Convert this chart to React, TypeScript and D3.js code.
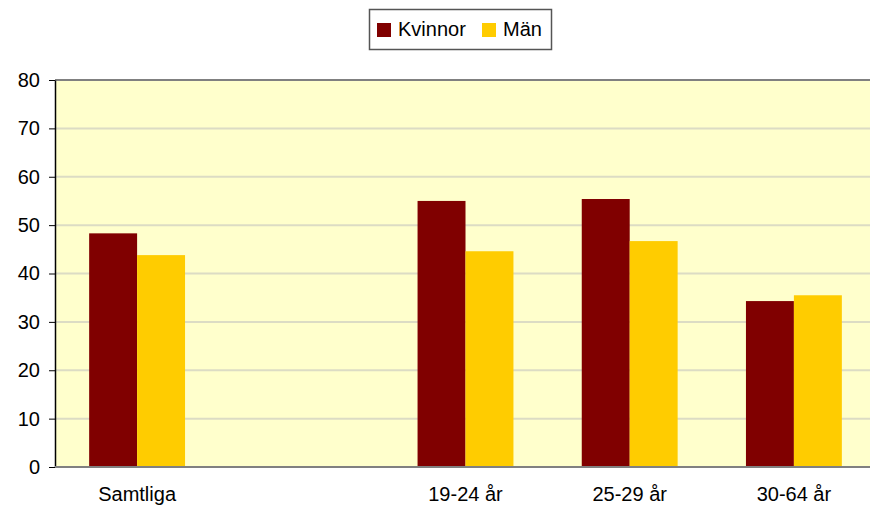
import React, { useEffect, useRef } from "react";
import * as d3 from "d3";

const categories = ["Samtliga", "", "19-24 år", "25-29 år", "30-64 år"];
const seriesNames = ["Kvinnor", "Män"];
const kvinnor = [48.3, null, 55.0, 55.4, 34.3];
const man = [43.8, null, 44.6, 46.7, 35.5];
const yTicks = [0, 10, 20, 30, 40, 50, 60, 70, 80];
const colors = ["#800000", "#ffcc00"];

const App: React.FC = () => {
  const svgRef = useRef<SVGSVGElement>(null);
  const width = 870;
  const height = 512;
  const margin = { top: 80, right: -6, bottom: 45, left: 55 };

  useEffect(() => {
    if (!svgRef.current) return;
    const svg = d3.select(svgRef.current);
    svg.selectAll("*").remove();

    const font = "'Liberation Sans', Arial, sans-serif";
    const x0 = d3.scaleBand<string>()
      .domain(categories.map((c, i) => `${i}`))
      .range([margin.left, width - margin.right]);
    const bw = x0.bandwidth() * 0.292;
    const y = d3.scaleLinear().domain([0, 80]).range([height - margin.bottom, margin.top]);

    // plot background
    svg.append("rect")
      .attr("x", margin.left)
      .attr("y", margin.top)
      .attr("width", width - margin.right - margin.left)
      .attr("height", y(0) - margin.top)
      .attr("fill", "#ffffcc");

    // gridlines
    svg.append("g")
      .selectAll("line")
      .data(yTicks.filter(t => t > 0 && t < 80))
      .join("line")
      .attr("x1", margin.left)
      .attr("x2", width)
      .attr("y1", d => y(d))
      .attr("y2", d => y(d))
      .attr("stroke", "#dcdcc4")
      .attr("stroke-width", 2);

    // top border
    svg.append("line")
      .attr("x1", margin.left).attr("x2", width)
      .attr("y1", y(80)).attr("y2", y(80))
      .attr("stroke", "#808080").attr("stroke-width", 2);

    // bars
    const seriesData = [kvinnor, man];
    seriesData.forEach((vals, si) => {
      svg.append("g")
        .selectAll("rect")
        .data(vals.map((v, i) => ({ v, i })).filter(d => d.v != null))
        .join("rect")
        .attr("x", d => (x0(`${d.i}`) as number) + x0.bandwidth() / 2 + (si - 1) * bw)
        .attr("y", d => y(d.v as number))
        .attr("width", bw)
        .attr("height", d => y(0) - y(d.v as number))
        .attr("fill", colors[si]);
    });

    // y axis
    const yAxis = svg.append("g")
      .attr("transform", `translate(${margin.left},0)`)
      .call(d3.axisLeft(y).tickValues(yTicks).tickSize(6).tickPadding(9).tickSizeOuter(0));
    yAxis.select(".domain").attr("stroke", "#000").attr("stroke-width", 1.5);
    yAxis.selectAll(".tick line").attr("stroke", "#000");
    yAxis.selectAll("text")
      .attr("font-family", font)
      .attr("font-size", 20)
      .attr("fill", "#000");

    // bottom axis line
    svg.append("line")
      .attr("x1", margin.left).attr("x2", width)
      .attr("y1", y(0)).attr("y2", y(0))
      .attr("stroke", "#808080").attr("stroke-width", 2);

    // x labels
    svg.append("g")
      .selectAll("text")
      .data(categories.map((c, i) => ({ c, i })))
      .join("text")
      .attr("x", d => (x0(`${d.i}`) as number) + x0.bandwidth() / 2)
      .attr("y", 501)
      .attr("text-anchor", "middle")
      .attr("font-family", font)
      .attr("font-size", 20)
      .attr("fill", "#000")
      .text(d => d.c);

    // legend
    const lg = svg.append("g");
    lg.append("rect")
      .attr("x", 369.5).attr("y", 9.5)
      .attr("width", 182).attr("height", 40)
      .attr("fill", "#fff")
      .attr("stroke", "#555")
      .attr("stroke-width", 1.5);
    const legendX = [377, 482];
    seriesNames.forEach((name, i) => {
      lg.append("rect")
        .attr("x", legendX[i]).attr("y", 23)
        .attr("width", 14).attr("height", 14)
        .attr("fill", colors[i]);
      lg.append("text")
        .attr("x", legendX[i] + 21).attr("y", 35.5)
        .attr("font-family", font)
        .attr("font-size", 20)
        .attr("fill", "#000")
        .text(name);
    });
  }, []);

  return (
    <svg
      ref={svgRef}
      width={width}
      height={height}
      style={{ position: "absolute", left: 0, top: 0, background: "#fff" }}
    />
  );
};

export default App;
